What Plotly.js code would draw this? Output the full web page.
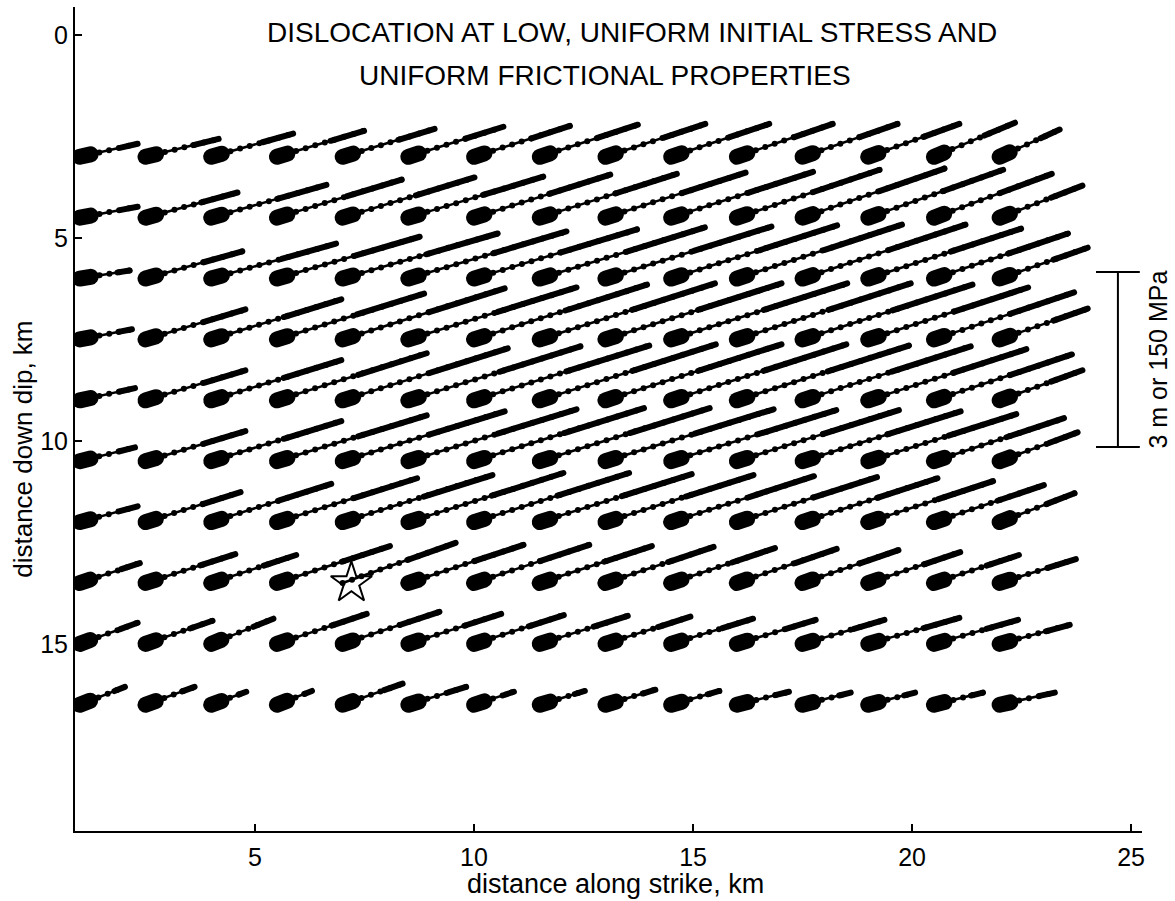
<!DOCTYPE html>
<html>
<head>
<meta charset="utf-8">
<script src="https://cdn.plot.ly/plotly-3.0.1.min.js"></script>
<style>
  html, body { margin: 0; padding: 0; background: #fff; }
  #chart { width: 1175px; height: 901px; }
  /* rounded ends give the beads, blobs and dense tails their soft shape */
  #chart .scatterlayer .js-line { stroke-linecap: round; }
</style>
</head>
<body>
<div id="chart"></div>
<script>
// Grid of fault points (km)
const strikeKm = [1, 2.5, 4, 5.5, 7, 8.5, 10, 11.5, 13, 14.5, 16, 17.5, 19, 20.5, 22];
const dipKm = [3, 4.5, 6, 7.5, 9, 10.5, 12, 13.5, 15, 16.5];

// Final dislocation of each point, drawn at map scale (km): along strike (+ right)
const slipAlongStrike = [
  [1.32, 1.67, 1.87, 1.99, 2.10, 2.17, 2.19, 2.24, 2.28, 2.24, 2.19, 2.17, 2.08, 1.85, 1.37],
  [1.32, 2.10, 2.63, 2.85, 3.01, 3.08, 3.11, 3.13, 3.20, 3.24, 3.26, 3.24, 3.08, 2.69, 1.89],
  [1.14, 2.21, 2.85, 3.26, 3.54, 3.61, 3.72, 3.77, 3.79, 3.79, 3.77, 3.72, 3.49, 3.06, 2.01],
  [1.19, 2.28, 2.97, 3.36, 3.70, 3.84, 3.95, 4.00, 4.02, 4.02, 3.97, 3.88, 3.65, 3.20, 2.01],
  [1.26, 2.28, 2.97, 3.42, 3.77, 3.93, 4.00, 4.02, 4.02, 4.00, 3.93, 3.84, 3.61, 3.15, 1.89],
  [1.26, 2.28, 2.97, 3.42, 3.70, 3.84, 3.88, 3.88, 3.84, 3.77, 3.70, 3.61, 3.38, 2.97, 1.78],
  [1.32, 2.17, 2.74, 3.20, 3.42, 3.54, 3.54, 3.47, 3.38, 3.26, 3.20, 3.08, 2.85, 2.51, 1.71],
  [1.37, 2.05, 1.94, 2.58, 2.58, 2.63, 2.63, 2.56, 2.47, 2.37, 2.28, 2.19, 2.10, 1.94, 1.74],
  [1.32, 1.53, 1.42, 2.05, 2.21, 2.12, 2.05, 2.01, 1.94, 1.87, 1.80, 1.87, 2.08, 1.92, 1.60],
  [1.03, 1.12, 0.80, 0.80, 1.37, 1.32, 0.91, 1.03, 1.14, 1.10, 1.19, 1.10, 1.07, 1.12, 1.26]
];
// ... and up dip (+ toward the surface)
const slipUpDip = [
  [0.32, 0.44, 0.57, 0.64, 0.69, 0.74, 0.76, 0.79, 0.81, 0.81, 0.81, 0.81, 0.81, 0.84, 0.67],
  [0.27, 0.62, 0.81, 0.94, 0.99, 1.01, 1.06, 1.08, 1.11, 1.13, 1.18, 1.21, 1.18, 1.08, 0.79],
  [0.20, 0.67, 0.86, 1.03, 1.11, 1.16, 1.21, 1.26, 1.28, 1.31, 1.33, 1.33, 1.23, 1.11, 0.76],
  [0.25, 0.74, 0.99, 1.13, 1.26, 1.28, 1.35, 1.38, 1.38, 1.38, 1.38, 1.35, 1.28, 1.16, 0.76],
  [0.30, 0.74, 0.99, 1.16, 1.28, 1.33, 1.35, 1.38, 1.38, 1.38, 1.35, 1.33, 1.26, 1.13, 0.74],
  [0.34, 0.74, 0.99, 1.13, 1.23, 1.28, 1.31, 1.31, 1.28, 1.26, 1.26, 1.23, 1.16, 1.06, 0.71],
  [0.39, 0.74, 0.94, 1.08, 1.16, 1.21, 1.21, 1.18, 1.16, 1.13, 1.11, 1.08, 1.01, 0.91, 0.71],
  [0.49, 0.71, 0.69, 0.91, 0.99, 0.94, 0.94, 0.91, 0.89, 0.86, 0.84, 0.81, 0.76, 0.69, 0.59],
  [0.52, 0.57, 0.62, 0.74, 0.79, 0.74, 0.71, 0.69, 0.67, 0.62, 0.59, 0.59, 0.64, 0.59, 0.47],
  [0.44, 0.44, 0.32, 0.34, 0.52, 0.44, 0.32, 0.34, 0.37, 0.34, 0.32, 0.30, 0.30, 0.30, 0.30]
];

const hypocenter = { x: 7.2, y: 13.5 };
const xTicks = [5, 10, 15, 20, 25];
const yTicks = [0, 5, 10, 15];
const titleLines = ['DISLOCATION AT LOW, UNIFORM INITIAL STRESS AND', 'UNIFORM FRICTIONAL PROPERTIES'];
const xTitle = 'distance along strike, km';
const yTitle = 'distance down dip, km';
const scaleLabel = '3 m or 150 MPa';

// ---- geometry of the figure ----
const W = 1175, H = 901;
const M = { l: 75, r: 33, t: 7, b: 70 };
const xRange = [0.89, 25.25];
const yRange = [19.61, -0.69];
const pxPerKmX = (W - M.l - M.r) / (xRange[1] - xRange[0]);
const pxPerKmY = (H - M.t - M.b) / (yRange[0] - yRange[1]);
const bar = { x: 24.7, top: 5.84, bottom: 10.15, half: 0.5 };

const FONT = 'Liberation Sans, Arial, Helvetica, sans-serif';
const INK = '#000';

// length (px) of the closely stepped end of a path: longer paths creep longer
function tailLength(lenPx) {
  return Math.max(0.22 * lenPx, 0.56 * lenPx - 16);
}

const thinX = [], thinY = [];
const tails = [], blobs = [];

dipKm.forEach((y0, i) => {
  strikeKm.forEach((x0, k) => {
    const x1 = x0 + slipAlongStrike[i][k];
    const y1 = y0 - slipUpDip[i][k];
    thinX.push(x0, x1, null);
    thinY.push(y0, y1, null);
    const lenPx = Math.hypot((x1 - x0) * pxPerKmX, (y1 - y0) * pxPerKmY);
    // slow final slip: closely packed steps, drawn back from the end point
    tails.push({
      type: 'scatter', mode: 'lines', x: [x1, x0], y: [y1, y0],
      line: { color: INK, width: 6, dash: tailLength(lenPx).toFixed(1) + 'px,4000px' },
      hoverinfo: 'skip', showlegend: false
    });
    const atHypo = Math.abs(x0 - hypocenter.x) < 0.75 && Math.abs(y0 - hypocenter.y) < 0.75;
    if (!atHypo) {
      // slow initial slip: dense cluster of steps at the starting point
      blobs.push({
        type: 'scatter', mode: 'lines', x: [x0, x1], y: [y0, y1],
        line: { color: INK, width: 16, dash: '11px,4000px' },
        hoverinfo: 'skip', showlegend: false
      });
    }
  });
});

const paths = {
  type: 'scatter', mode: 'lines', x: thinX, y: thinY,
  line: { color: INK, width: 2.5 }, hoverinfo: 'skip', showlegend: false
};
const steps = {
  type: 'scatter', mode: 'lines', x: thinX, y: thinY,
  line: { color: INK, width: 6, dash: '0px,10px' }, hoverinfo: 'skip', showlegend: false
};
const star = {
  type: 'scatter', mode: 'markers', x: [hypocenter.x], y: [hypocenter.y],
  marker: { symbol: 'star-open', size: 31, color: INK, line: { color: INK, width: 2 } },
  cliponaxis: false, hoverinfo: 'skip', showlegend: false
};

const axisBase = {
  showline: true, linecolor: INK, linewidth: 2, mirror: false,
  showgrid: false, zeroline: false,
  ticks: 'inside', ticklen: 7, tickwidth: 1.5, tickcolor: INK,
  tickfont: { family: FONT, size: 25, color: INK },
  fixedrange: true
};

const layout = {
  width: W, height: H,
  margin: M,
  paper_bgcolor: '#fff', plot_bgcolor: '#fff',
  showlegend: false,
  xaxis: Object.assign({}, axisBase, { range: xRange, tickvals: xTicks, ticktext: xTicks.map(String), ticklabelstandoff: 3 }),
  yaxis: Object.assign({}, axisBase, { range: yRange, tickvals: yTicks, ticktext: yTicks.map(String), ticklabelstandoff: 0 }),
  shapes: [
    { type: 'line', xref: 'x', yref: 'y', x0: bar.x, x1: bar.x, y0: bar.top, y1: bar.bottom, line: { color: INK, width: 2 } },
    { type: 'line', xref: 'x', yref: 'y', x0: bar.x - bar.half, x1: bar.x + bar.half, y0: bar.top, y1: bar.top, line: { color: INK, width: 2 } },
    { type: 'line', xref: 'x', yref: 'y', x0: bar.x - bar.half, x1: bar.x + bar.half, y0: bar.bottom, y1: bar.bottom, line: { color: INK, width: 2 } }
  ],
  annotations: [
    { text: titleLines[0], xref: 'paper', yref: 'paper', x: 0.522, y: 1, yshift: -25, xanchor: 'center', yanchor: 'middle', showarrow: false, font: { family: FONT, size: 28, color: INK } },
    { text: titleLines[1], xref: 'paper', yref: 'paper', x: 0.497, y: 1, yshift: -68, xanchor: 'center', yanchor: 'middle', showarrow: false, font: { family: FONT, size: 28, color: INK } },
    { text: xTitle, xref: 'paper', yref: 'paper', x: 0.507, y: 0, yshift: -53, xanchor: 'center', yanchor: 'middle', showarrow: false, font: { family: FONT, size: 27, color: INK } },
    { text: yTitle, xref: 'paper', yref: 'y', x: -0.049, y: 10.2, textangle: -90, xanchor: 'center', yanchor: 'middle', showarrow: false, font: { family: FONT, size: 26, color: INK } },
    { text: scaleLabel, xref: 'paper', yref: 'y', x: 1.015, y: (bar.top + bar.bottom) / 2, textangle: -90, xanchor: 'center', yanchor: 'middle', showarrow: false, font: { family: FONT, size: 25, color: INK } }
  ]
};

Plotly.newPlot('chart', [paths, steps].concat(tails, blobs, [star]), layout, { displayModeBar: false, staticPlot: true });
</script>
</body>
</html>
